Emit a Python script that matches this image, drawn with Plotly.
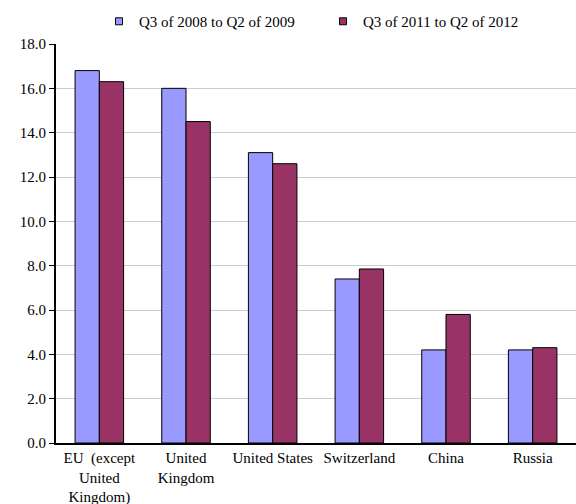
import plotly.graph_objects as go

categories = ["EU  (except<br>United<br>Kingdom)", "United<br>Kingdom", "United States",
              "Switzerland", "China", "Russia"]
series_2008 = [16.8, 16.0, 13.1, 7.4, 4.2, 4.2]
series_2011 = [16.3, 14.5, 12.6, 7.85, 5.8, 4.3]
name_2008 = "Q3 of 2008 to Q2 of 2009"
name_2011 = "Q3 of 2011 to Q2 of 2012"
y_ticks = [0, 2, 4, 6, 8, 10, 12, 14, 16, 18]

color_2008 = "#9999FF"
color_2011 = "#993366"
font = "Liberation Serif"
fsize = 15

fig = go.Figure()
for name, values, color in [(name_2008, series_2008, color_2008),
                            (name_2011, series_2011, color_2011)]:
    fig.add_trace(go.Bar(x=categories, y=values, name=name, showlegend=False,
                         marker=dict(color=color, line=dict(color="#000000", width=1))))

# small square legend keys
for name, color in [(name_2008, color_2008), (name_2011, color_2011)]:
    fig.add_trace(go.Scatter(x=[None], y=[None], mode="markers", name=name,
                             marker=dict(symbol="square", size=7, color=color,
                                         line=dict(color="#000000", width=1))))

fig.update_layout(
    width=576, height=504,
    margin=dict(l=56, r=0, t=44, b=61, autoexpand=False),
    paper_bgcolor="white", plot_bgcolor="white",
    font=dict(family=font, size=fsize, color="#000000"),
    barmode="group", bargap=0.44, bargroupgap=0,
    showlegend=True,
    legend=dict(orientation="h", x=99 / 576, xanchor="left", xref="container",
                y=0.99, yanchor="top", yref="container",
                font=dict(family=font, size=fsize),
                itemwidth=30, entrywidth=179, entrywidthmode="pixels",
                traceorder="normal", bgcolor="rgba(0,0,0,0)"),
)
fig.update_yaxes(range=[0, 18], tickvals=y_ticks, tickformat=".1f",
                 showgrid=True, gridcolor="#CCCCCC", gridwidth=1,
                 showline=True, linecolor="#000000", linewidth=2,
                 ticks="outside", ticklen=5, tickcolor="#000000", tickwidth=1,
                 zeroline=False, tickfont=dict(family=font, size=fsize))
fig.update_xaxes(showline=True, linecolor="#000000", linewidth=2,
                 ticks="", tickangle=0,
                 tickfont=dict(family=font, size=fsize))

fig.write_html("out.html")
